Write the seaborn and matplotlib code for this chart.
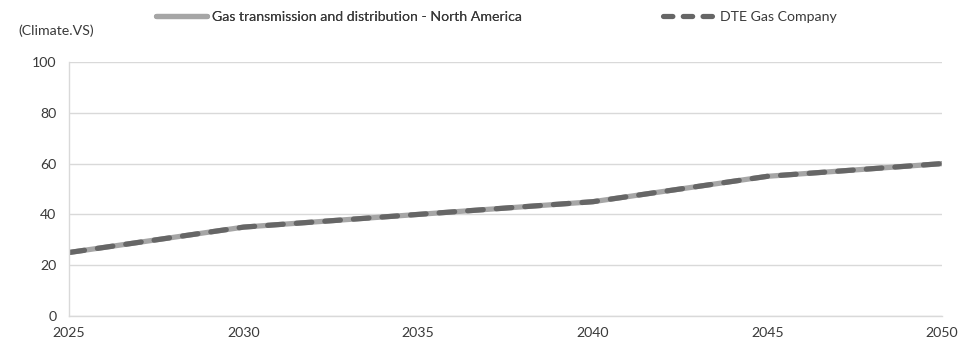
import matplotlib
matplotlib.use("Agg")
import matplotlib.pyplot as plt
import seaborn as sns
import pandas as pd
from matplotlib.lines import Line2D

years = [2025, 2030, 2035, 2040, 2045, 2050]
sector_values = [25, 35, 40, 45, 55, 60]
dte_values = [25, 35, 40, 45, 55, 60]
series_names = ["Gas transmission and distribution - North America", "DTE Gas Company"]
y_ticks = [0, 20, 40, 60, 80, 100]
y_label = "(Climate.VS)"

df = pd.DataFrame({
    "year": years * 2,
    "value": sector_values + dte_values,
    "series": [series_names[0]] * len(years) + [series_names[1]] * len(years),
})

sns.set_theme(style="white")
plt.rcParams["font.family"] = ["Lato", "DejaVu Sans"]

FS = 10.2
LW = 3.75
DASH = (3, 2.5)
LEG_DASH = (1.8, 2.0)
C_LIGHT = "#a6a6a6"
C_DARK = "#666666"
TXT = "#3a3a3a"

fig = plt.figure(figsize=(9.59, 3.42), dpi=100)
ax = fig.add_axes([0.0720, 0.076, 0.9103, 0.7427])

palette = {series_names[0]: C_LIGHT, series_names[1]: C_DARK}
sns.lineplot(data=df, x="year", y="value", hue="series", style="series",
             palette=palette, dashes={series_names[0]: "", series_names[1]: DASH},
             linewidth=LW, ax=ax, legend=False)
for ln in ax.get_lines():
    ln.set_dash_capstyle("round")
    ln.set_solid_capstyle("round")

ax.set_xlim(2025, 2050)
ax.set_ylim(0, 100)
ax.set_yticks(y_ticks)
ax.set_xticks(years)
ax.grid(axis="y", color="#d9d9d9", linewidth=1)
ax.grid(axis="x", visible=False)
for s in ["top", "right"]:
    ax.spines[s].set_visible(False)
for s in ["left", "bottom"]:
    ax.spines[s].set_color("#d9d9d9")
    ax.spines[s].set_linewidth(1)
ax.tick_params(axis="both", labelsize=FS, colors=TXT, length=0)
ax.tick_params(axis="y", pad=9)
ax.tick_params(axis="x", pad=8)
ax.set_xlabel("")
ax.set_ylabel("")

fig.text(18 / 959, 1 - 31 / 342, y_label, fontsize=FS, color=TXT, va="center", ha="left")

h1 = Line2D([], [], color=C_LIGHT, linewidth=LW, solid_capstyle="round")
h2 = Line2D([], [], color=C_DARK, linewidth=LW, linestyle=(0, LEG_DASH), dash_capstyle="round")
leg1 = fig.legend([h1], [series_names[0]], loc="center left",
                  bbox_to_anchor=(156 / 959, 1 - 17 / 342), frameon=False, fontsize=FS,
                  handlelength=51 / 14.2, handletextpad=0.35, borderpad=0, borderaxespad=0,
                  labelcolor=TXT)
leg2 = fig.legend([h2], [series_names[1]], loc="center left",
                  bbox_to_anchor=(663 / 959, 1 - 17 / 342), frameon=False, fontsize=FS,
                  handlelength=54 / 14.2, handletextpad=0.2, borderpad=0, borderaxespad=0,
                  labelcolor=TXT)
fig.add_artist(leg1)

fig.savefig("out.png", dpi=100)
